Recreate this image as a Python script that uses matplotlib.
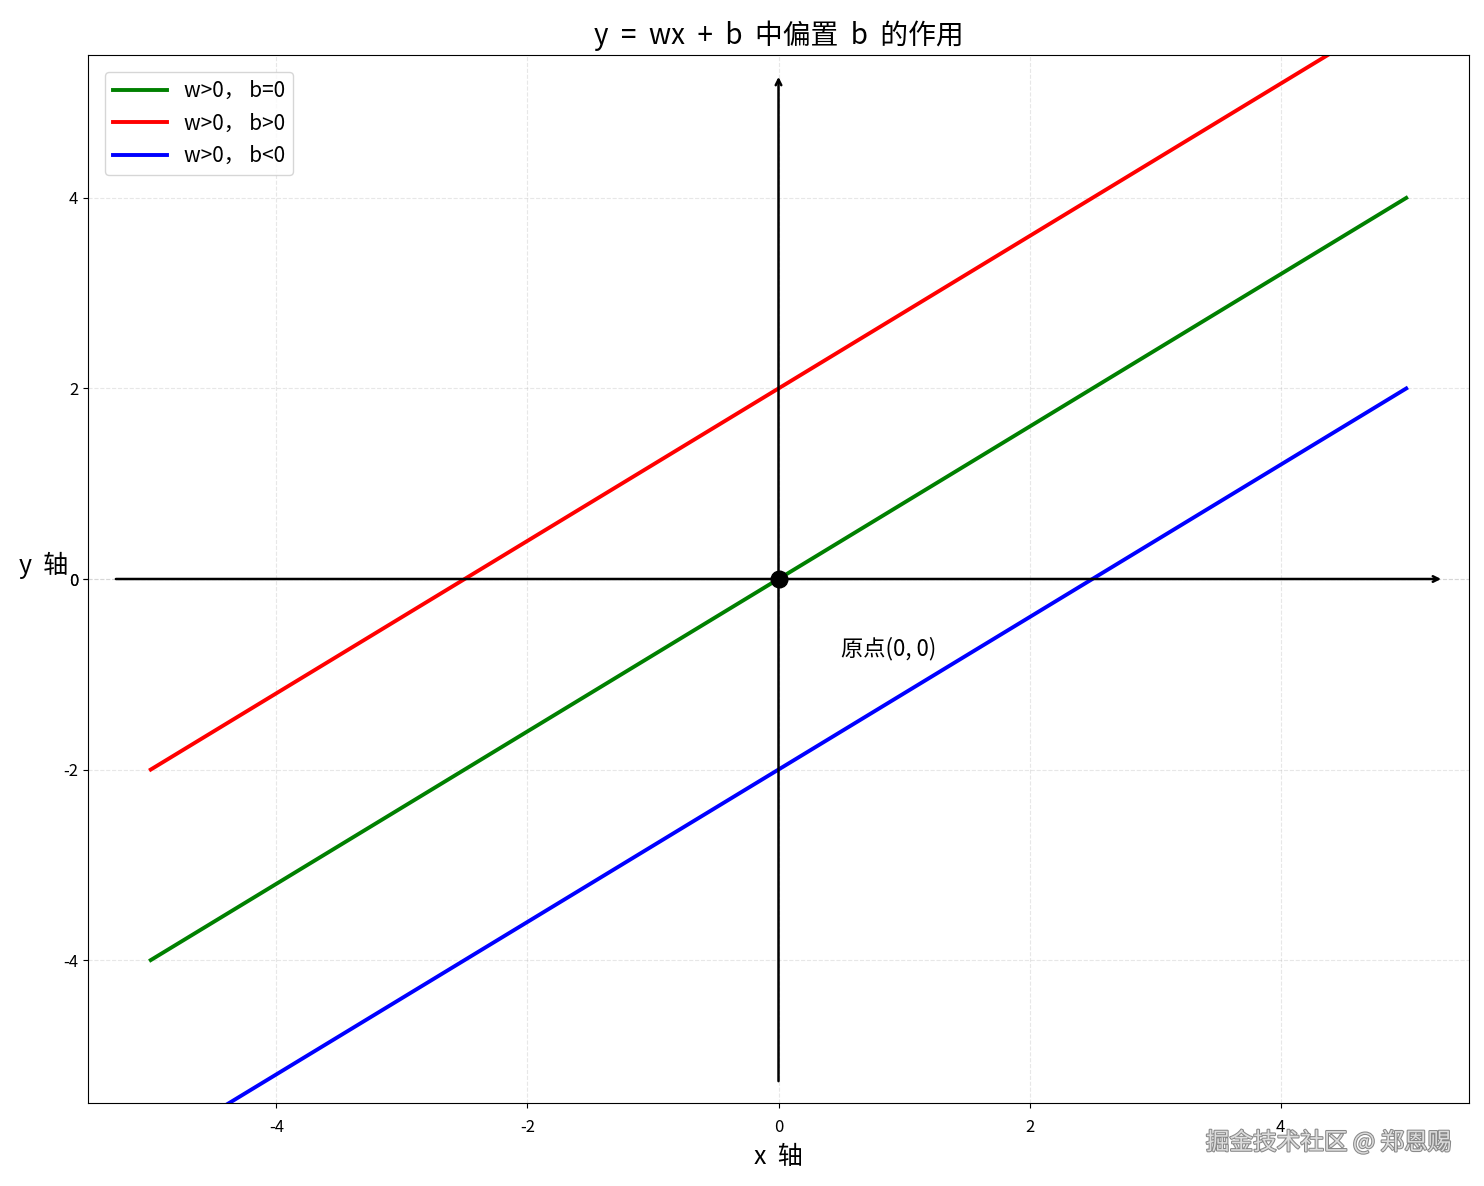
import numpy as np
import matplotlib
matplotlib.use('Agg')
import matplotlib.pyplot as plt
import matplotlib.patheffects as pe

plt.rcParams['font.family'] = ['Noto Sans CJK SC', 'DejaVu Sans']
plt.rcParams['axes.unicode_minus'] = False

# y = w*x + b, same slope, different bias
x_range = [-5, 5]
w = 0.8
biases = [0, 2, -2]
labels = ['w>0， b=0', 'w>0， b>0', 'w>0， b<0']
colors = ['green', 'red', 'blue']
ticks = [-4, -2, 0, 2, 4]

fig = plt.figure(figsize=(14.84, 11.86), dpi=100)
ax = fig.add_axes([0.0593, 0.070, 0.9306, 0.8836])

x = np.linspace(x_range[0], x_range[1], 100)
for b, lab, c in zip(biases, labels, colors):
    ax.plot(x, w * x + b, color=c, linewidth=2.8, label=lab)

# coordinate axes with arrows
ax.annotate('', xy=(5.3, 0), xytext=(-5.3, 0),
            arrowprops=dict(arrowstyle='->', color='black', lw=1.8))
ax.annotate('', xy=(0, 5.3), xytext=(0, -5.3),
            arrowprops=dict(arrowstyle='->', color='black', lw=1.8))

ax.plot(0, 0, 'ko', markersize=12)
ax.text(0.5, -0.8, '原点(0, 0)', fontsize=16)

ax.set_xlim(-5.5, 5.5)
ax.set_ylim(-5.5, 5.5)
ax.set_xticks(ticks)
ax.set_yticks(ticks + [0])
ax.tick_params(labelsize=12)
ax.tick_params(axis='x', pad=8)
ax.grid(True, linestyle='--', alpha=0.3)

ax.set_title('y  =  wx  +  b  中偏置  b  的作用', fontsize=20, pad=8)
ax.set_xlabel('x  轴', fontsize=18, labelpad=6)
ax.set_ylabel('y  轴', fontsize=18, rotation=0, labelpad=14)
ax.legend(loc='upper left', fontsize=15, handlelength=2.6, labelspacing=0.5,
          borderaxespad=0.8)

fig.text(0.978, 0.037, '掘金技术社区 @ 郑恩赐', fontsize=17, color='#dddddd',
         ha='right', va='center',
         path_effects=[pe.withStroke(linewidth=1.5, foreground='#888888')])

fig.savefig('out.png', dpi=100)
